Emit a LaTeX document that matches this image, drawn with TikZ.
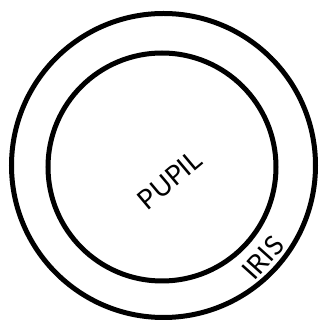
\documentclass[tikz,border=0pt]{standalone}
\usepackage{fontspec}
\setmainfont{Lato}
\usetikzlibrary{positioning}
\tikzset{
  ring/.style  ={circle, draw=black, line width=5pt, inner sep=0pt},
  lbl/.style   ={font=\fontsize{27}{27}\selectfont, inner sep=0pt},
}

\begin{document}
\begin{tikzpicture}[x=1pt,y=1pt]
\useasboundingbox (0,0) rectangle (322,321);
\node[ring, minimum size=304pt] (iris) at (163.5,155.5) {};
\node[ring, minimum size=228pt] (pupil) at (162,154) {};

\node[lbl, rotate=40] (pupiltxt) at (170,141) {PUPIL};
\node[lbl, rotate=48] (iristxt) at (263,63) {IRIS};
\end{tikzpicture}
\end{document}
